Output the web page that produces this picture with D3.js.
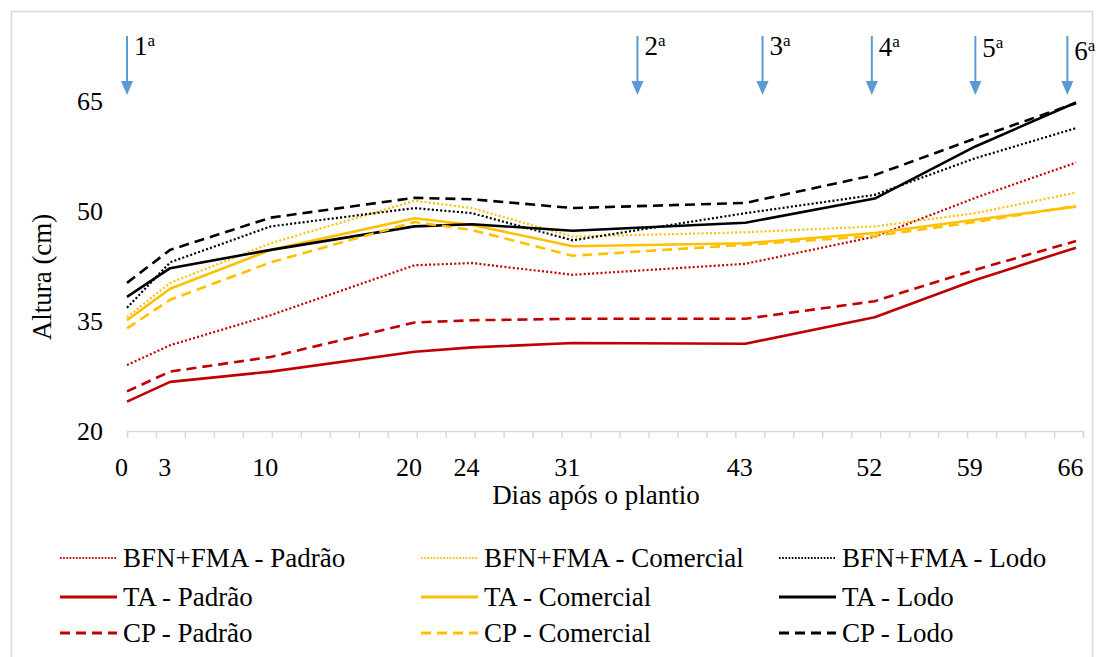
<!DOCTYPE html>
<html>
<head>
<meta charset="utf-8">
<script src="https://cdn.jsdelivr.net/npm/d3@7"></script>
<style>
  body { margin: 0; background: #fff; }
  svg text { font-family: 'Liberation Serif', 'Times New Roman', Tinos, 'DejaVu Serif', serif !important; fill: #000; }
</style>
</head>
<body>
<div class="chart"></div>
<script>
// ============================================================================
// Data
// ============================================================================

var days = [0, 3, 10, 20, 24, 31, 43, 52, 59, 66];

var bfnPadrao    = [29.0, 31.7, 35.8, 42.6, 42.9, 41.3, 42.8, 46.5, 51.8, 56.6];
var taPadrao     = [24.0, 26.7, 28.1, 30.8, 31.4, 32.0, 31.9, 35.5, 40.6, 45.0];
var cpPadrao     = [25.4, 28.1, 30.1, 34.8, 35.1, 35.3, 35.3, 37.7, 42.0, 45.9];
var bfnComercial = [35.5, 40.2, 45.6, 51.4, 50.4, 46.5, 47.1, 47.9, 49.7, 52.5];
var taComercial  = [35.1, 39.4, 44.7, 49.0, 48.1, 45.2, 45.6, 47.0, 48.8, 50.6];
var cpComercial  = [34.0, 37.9, 43.0, 48.5, 47.4, 43.9, 45.4, 46.6, 48.5, 50.7];
var bfnLodo      = [36.8, 43.0, 47.9, 50.4, 49.7, 46.0, 49.7, 52.2, 57.2, 61.3];
var taLodo       = [38.3, 42.2, 44.7, 47.9, 48.2, 47.3, 48.4, 51.7, 58.8, 64.8];
var cpLodo       = [40.2, 44.7, 49.1, 51.8, 51.6, 50.4, 51.1, 54.9, 59.9, 64.7];

var yTicks = [20, 35, 50, 65];

// fertilizer applications (arrows)
var applicationDays = [0, 35.5, 44.2, 51.8, 59, 65.4];
var applicationLabels = ['1', '2', '3', '4', '5', '6'];

// ============================================================================
// Layout / styles
// ============================================================================

var svgWidth = 1103;
var svgHeight = 657;

var FONT = "'Liberation Serif', 'Times New Roman', Tinos, 'DejaVu Serif', serif";

var RED = '#C00000';
var YELLOW = '#FFC000';
var BLACK = '#000000';
var ARROW_BLUE = '#5B9BD5';

var DASH = { dotted: '2,2.2', solid: null, dashed: '10,6' };

var series = [
  { name: 'BFN+FMA - Padrão',    values: bfnPadrao,    color: RED,    style: 'dotted', col: 0, row: 0 },
  { name: 'BFN+FMA - Comercial', values: bfnComercial, color: YELLOW, style: 'dotted', col: 1, row: 0 },
  { name: 'BFN+FMA - Lodo',      values: bfnLodo,      color: BLACK,  style: 'dotted', col: 2, row: 0 },
  { name: 'TA - Padrão',         values: taPadrao,     color: RED,    style: 'solid',  col: 0, row: 1 },
  { name: 'TA - Comercial',      values: taComercial,  color: YELLOW, style: 'solid',  col: 1, row: 1 },
  { name: 'TA - Lodo',           values: taLodo,       color: BLACK,  style: 'solid',  col: 2, row: 1 },
  { name: 'CP - Padrão',         values: cpPadrao,     color: RED,    style: 'dashed', col: 0, row: 2 },
  { name: 'CP - Comercial',      values: cpComercial,  color: YELLOW, style: 'dashed', col: 1, row: 2 },
  { name: 'CP - Lodo',           values: cpLodo,       color: BLACK,  style: 'dashed', col: 2, row: 2 }
];

var legendColX = [60, 421, 779];
var legendRowY = [558, 597, 633];
var labelDy = [0, 0, 0, 1, 2, 5];

// ============================================================================
// Create SVG
// ============================================================================

var svg = d3.select('.chart')
  .append('svg')
  .attr('width', svgWidth)
  .attr('height', svgHeight)
  .attr('font-family', FONT);

// chart area border
svg.append('rect')
  .attr('x', 11.5)
  .attr('y', 11.5)
  .attr('width', 1081)
  .attr('height', 670)
  .attr('fill', 'none')
  .attr('stroke', '#d9d9d9')
  .attr('stroke-width', 1.5);

// Scales
var xScale = d3.scaleLinear().domain([0, 66]).range([127, 1076]);
var yScale = d3.scaleLinear().domain([20, 65]).range([431, 101]);
// tick marks every 2 days along the axis (33 intervals)
var tickScale = d3.scaleLinear().domain([0, 33]).range([127, 1083]);

// x axis: line + minor tick marks
var xTickAxis = svg.append('g')
  .attr('transform', 'translate(0, 431)')
  .call(d3.axisBottom(tickScale).tickValues(d3.range(34)).tickSize(7).tickSizeOuter(7).tickFormat(''));
xTickAxis.selectAll('path, line')
  .attr('stroke', '#d9d9d9')
  .attr('stroke-width', 1.5);

// x axis labels
var xLabelAxis = svg.append('g')
  .attr('transform', 'translate(-6, 431)')
  .call(d3.axisBottom(xScale).tickValues(days).tickSize(0).tickPadding(27).tickFormat(d3.format('d')));
xLabelAxis.attr('font-family', FONT).attr('font-size', 26);
xLabelAxis.select('.domain').remove();
xLabelAxis.selectAll('text')
  .attr('font-size', 26)
  .attr('font-family', FONT)
  .attr('fill', '#000');

// y axis labels
var yAxis = svg.append('g')
  .attr('transform', 'translate(127, 0)')
  .call(d3.axisLeft(yScale).tickValues(yTicks).tickSize(0).tickPadding(24));
yAxis.attr('font-family', FONT).attr('font-size', 26);
yAxis.select('.domain').remove();
yAxis.selectAll('text')
  .attr('font-size', 26)
  .attr('font-family', FONT)
  .attr('fill', '#000');

// axis titles
svg.append('text')
  .attr('x', 596)
  .attr('y', 504)
  .attr('text-anchor', 'middle')
  .attr('font-family', FONT)
  .attr('font-size', 27)
  .text('Dias após o plantio');

svg.append('text')
  .attr('transform', 'translate(51, 277) rotate(-90)')
  .attr('text-anchor', 'middle')
  .attr('font-family', FONT)
  .attr('font-size', 27)
  .text('Altura (cm)');

// ============================================================================
// Lines
// ============================================================================

var line = d3.line()
  .x((d, i) => xScale(days[i]))
  .y(d => yScale(d));

svg.append('g')
  .selectAll('path')
  .data(series)
  .enter()
    .append('path')
    .attr('d', d => line(d.values))
    .attr('fill', 'none')
    .attr('stroke', d => d.color)
    .attr('stroke-width', d => d.style === 'dotted' ? 2.2 : 2.6)
    .attr('stroke-dasharray', d => DASH[d.style])
    .attr('stroke-linejoin', 'round');

// ============================================================================
// Application arrows
// ============================================================================

var arrows = svg.append('g')
  .selectAll('g')
  .data(applicationDays)
  .enter()
    .append('g')
    .attr('transform', d => `translate(${xScale(d)}, 0)`);

arrows.append('line')
  .attr('x1', 0).attr('x2', 0)
  .attr('y1', 36).attr('y2', 84)
  .attr('stroke', ARROW_BLUE)
  .attr('stroke-width', 2);

arrows.append('path')
  .attr('d', 'M-6,81 L6,81 L0,95 Z')
  .attr('fill', ARROW_BLUE);

var arrowText = arrows.append('text')
  .attr('x', 7)
  .attr('y', (d, i) => 55 + labelDy[i])
  .attr('font-family', FONT)
  .attr('font-size', 27);

arrowText.append('tspan')
  .text((d, i) => applicationLabels[i]);

arrowText.append('tspan')
  .attr('font-size', 17)
  .attr('dy', -9)
  .text('a');

// ============================================================================
// Legend
// ============================================================================

var legend = svg.append('g')
  .selectAll('g')
  .data(series)
  .enter()
    .append('g')
    .attr('transform', d => `translate(${legendColX[d.col]}, ${legendRowY[d.row]})`);

legend.append('line')
  .attr('x1', 0).attr('x2', 57)
  .attr('y1', 0).attr('y2', 0)
  .attr('stroke', d => d.color)
  .attr('stroke-width', d => d.style === 'dotted' ? 2 : 2.8)
  .attr('stroke-dasharray', d => d.style === 'dotted' ? '1.6,1.6' : DASH[d.style]);

legend.append('text')
  .attr('x', 63)
  .attr('y', 9)
  .attr('font-family', FONT)
  .attr('font-size', 27)
  .text(d => d.name);
</script>
</body>
</html>
